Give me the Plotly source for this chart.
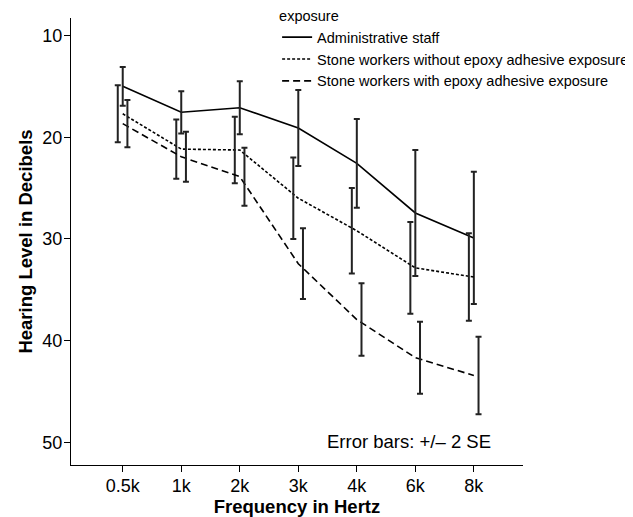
import plotly.graph_objects as go

freq_labels = ["0.5k", "1k", "2k", "3k", "4k", "6k", "8k"]
groups = ["Administrative staff",
          "Stone workers without epoxy adhesive exposure",
          "Stone workers with epoxy adhesive exposure"]
admin_mean = [15.0, 17.55, 17.1, 19.1, 22.57, 27.45, 29.9]
admin_err = [1.9, 2.08, 2.6, 3.74, 4.37, 6.2, 6.5]
without_mean = [17.7, 21.17, 21.26, 26.0, 29.2, 32.85, 33.75]
without_err = [2.8, 2.92, 3.27, 4.0, 4.2, 4.5, 4.3]
with_mean = [18.67, 21.92, 23.88, 32.44, 37.93, 41.68, 43.43]
with_err = [2.33, 2.46, 2.85, 3.48, 3.56, 3.54, 3.82]

means = [admin_mean, without_mean, with_mean]
errs = [admin_err, without_err, with_err]
dashes = ["solid", "3px,2px", "7px,4px"]
dodge = [0.0, -0.085, 0.08]

xpos = list(range(1, len(freq_labels) + 1))
font = "Liberation Sans, Arial, Helvetica, sans-serif"

fig = go.Figure()
for g, m, e, d, off in zip(groups, means, errs, dashes, dodge):
    fig.add_trace(go.Scatter(
        x=xpos, y=m, mode="lines", name=g,
        line=dict(color="black", width=1.6, dash=d),
    ))
    fig.add_trace(go.Scatter(
        x=[p + off for p in xpos], y=m, mode="markers", showlegend=False,
        marker=dict(size=0.1, color="rgba(0,0,0,0)"),
        error_y=dict(type="data", array=e, visible=True,
                     color="#222222", thickness=2, width=3),
        hoverinfo="skip",
    ))

fig.add_annotation(
    text="Error bars: +/\u2013 2 SE", xref="paper", yref="paper",
    x=0.934, y=0.025, xanchor="right", yanchor="bottom", showarrow=False,
    font=dict(family=font, size=18.5, color="black"),
)

fig.update_layout(
    width=633, height=517,
    margin=dict(l=63, r=118, t=10, b=60, autoexpand=False),
    paper_bgcolor="white", plot_bgcolor="white",
    font=dict(family=font, color="black"),
    showlegend=True,
    legend=dict(
        x=0.456, y=1.035, xanchor="left", yanchor="top",
        title=dict(text="exposure", font=dict(size=14.5, family=font)),
        font=dict(size=14.5, family=font, color="black"),
        bgcolor="rgba(0,0,0,0)", borderwidth=0,
        itemwidth=30, tracegroupgap=0,
    ),
    xaxis=dict(
        range=[0.116, 7.84], tickmode="array", tickvals=xpos,
        ticktext=freq_labels, showline=True, linecolor="black", linewidth=1.3,
        ticks="outside", ticklen=6, tickwidth=1.3, tickcolor="black",
        showgrid=False, zeroline=False, tickfont=dict(size=18),
        ticklabelstandoff=-2,
        title=dict(text="<b>Frequency in Hertz</b>", font=dict(size=18.5), standoff=0),
    ),
    yaxis=dict(
        range=[52.23, 8.28], tickvals=[10, 20, 30, 40, 50],
        showline=True, linecolor="black", linewidth=1.3,
        ticks="outside", ticklen=6, tickwidth=1.3, tickcolor="black",
        showgrid=False, zeroline=False, tickfont=dict(size=18),
        ticklabelstandoff=-2,
        title=dict(text="<b>Hearing Level in Decibels</b>", font=dict(size=18.5), standoff=4),
    ),
)

fig.write_html("out.html")
